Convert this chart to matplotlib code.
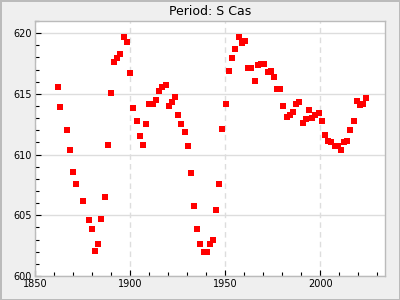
import matplotlib
matplotlib.use("Agg")
import matplotlib.pyplot as plt
from matplotlib.ticker import MultipleLocator

# dados
anos = [
    1862.0, 1863.4, 1867.1, 1868.6, 1870.2, 1871.8, 1875.5, 1878.6, 1880.2, 1881.8,
    1883.3, 1884.9, 1887.0, 1888.6, 1890.2, 1891.75, 1893.3, 1894.9, 1897.0, 1898.6,
    1900.2, 1901.7, 1903.8, 1905.5, 1907.0, 1908.6, 1910.1, 1912.2, 1913.8, 1915.4,
    1917.0, 1919.1, 1920.7, 1922.2, 1923.8, 1925.4, 1927.0, 1929.1, 1930.6, 1932.2,
    1933.8, 1935.4, 1936.9, 1939.0, 1940.6, 1942.2, 1943.8, 1945.35, 1946.9, 1948.5,
    1950.6, 1952.2, 1953.8, 1955.3, 1957.4, 1959.0, 1960.6, 1962.2, 1963.7, 1965.85,
    1967.4, 1969.0, 1970.6, 1972.7, 1974.25, 1975.8, 1977.4, 1979.0, 1980.6, 1982.7,
    1984.2, 1985.8, 1987.4, 1989.0, 1991.1, 1992.6, 1994.2, 1995.8, 1997.4, 1999.5,
    2001.05, 2002.6, 2004.2, 2005.8, 2007.9, 2009.5, 2011.0, 2012.6, 2014.2, 2015.8,
    2017.9, 2019.4, 2021.0, 2022.6, 2024.2,
]
periodos = [
    615.55, 613.9, 612.0, 610.4, 608.6, 607.55, 606.2, 604.6, 603.85, 602.1,
    602.6, 604.7, 606.5, 610.8, 615.1, 617.6, 617.95, 618.3, 619.7, 619.25,
    616.7, 613.8, 612.8, 611.5, 610.8, 612.5, 614.2, 614.2, 614.5, 615.2,
    615.55, 615.7, 614.0, 614.3, 614.7, 613.25, 612.5, 611.9, 610.7, 608.45,
    605.75, 603.9, 602.6, 601.95, 601.95, 602.6, 603.0, 605.4, 607.55, 612.1,
    614.15, 616.9, 617.95, 618.7, 619.7, 619.2, 619.35, 617.1, 617.1, 616.1,
    617.35, 617.5, 617.45, 616.8, 616.9, 616.4, 615.4, 615.4, 614.0, 613.1,
    613.3, 613.5, 614.2, 614.3, 612.6, 612.9, 613.7, 613.0, 613.25, 613.4,
    612.75, 611.6, 611.1, 611.0, 610.7, 610.7, 610.4, 611.0, 611.1, 612.0,
    612.8, 614.4, 614.05, 614.2, 614.65,
]

fig = plt.figure(figsize=(4, 3), dpi=100, facecolor="#efefef",
                 edgecolor="#bbbbbb", linewidth=1)
ax = fig.add_axes([34.85 / 400, 24 / 300, 350.15 / 400, 255 / 300])
ax.set_facecolor("white")

ax.plot(anos, periodos, linestyle="none", marker="s", markersize=4.3,
        color="#ff0000", markeredgewidth=0, zorder=3)

ax.set_xlim(1850, 2034)
ax.set_ylim(600, 621)
ax.xaxis.set_major_locator(MultipleLocator(50))
ax.xaxis.set_minor_locator(MultipleLocator(10))
ax.yaxis.set_major_locator(MultipleLocator(5))
ax.yaxis.set_minor_locator(MultipleLocator(1))

ax.grid(True, axis="y", which="major", color="#dddddd", linewidth=1, linestyle="-")
ax.grid(True, axis="x", which="major", color="#dddddd", linewidth=1,
        linestyle=(0, (4, 3)))
ax.set_axisbelow(True)

ax.tick_params(which="both", direction="in", colors="black", labelsize=7,
               width=0.8, pad=2)
ax.tick_params(which="major", length=4)
ax.tick_params(which="minor", length=3)
for lado in ax.spines.values():
    lado.set_color("#bbbbbb")
    lado.set_linewidth(1)

ax.set_title("Period: S Cas", fontsize=9, pad=4)

fig.savefig("out.png", dpi=100, facecolor=fig.get_facecolor(),
            edgecolor=fig.get_edgecolor())
